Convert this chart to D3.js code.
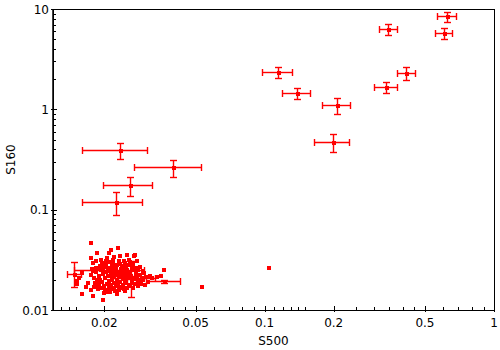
<!DOCTYPE html>
<html><head><meta charset="utf-8">
<script src="https://cdn.jsdelivr.net/npm/d3@7"></script>
<style>body{margin:0;background:#fff;}svg{display:block;}text{font-family:"DejaVu Sans",sans-serif;}</style>
</head><body><svg id="c" width="500" height="350"></svg>
<script>
// Scatter cluster (S500, S160)
const clusterX = [0.01748,0.0230,0.0214,0.0185,0.0210,0.0221,0.0234,0.0252,0.0272,0.0269,0.0174,0.0205,0.0193,0.0183,0.0243,0.0255,0.0212,0.0179,0.0203,0.0219,0.0226,0.0239,0.0249,0.0190,0.0263,0.0266,0.0176,0.0215,0.0198,0.0239,0.0160,0.0298,0.0364,0.0174,0.0155,0.0152,0.0152,0.0159,0.0175,0.0178,0.0197,0.0200,0.0206,0.0227,0.0247,0.0354,0.0339,0.0324,0.0280,0.0274,0.0169,0.0166,0.0181,0.0188,0.0219,0.0234,0.0257,0.0221,0.0191,
0.0184,0.0189,0.0193,0.0197,0.0201,0.0203,0.0207,0.0209,0.0212,0.0214,0.0216,0.0218,0.0220,0.0222,0.0225,0.0227,0.0229,0.0232,0.0234,0.0236,0.0239,0.0241,0.0244,0.0246,0.0248,0.0251,0.0254,0.0256,0.0259,0.0261,0.0264,0.0266,0.0269,0.0275,0.0277,0.0280,0.0283,0.0286,0.0292,0.0295,
0.0186,0.0189,0.0195,0.0199,0.0205,0.0209,0.0214,0.0220,0.0225,0.0229,0.0236,0.0241,0.0246,0.0251,0.0259,0.0266,0.0272,0.0280,0.0289,0.0181,0.0182,0.0188,0.0193,0.0201,0.0212,0.0222,0.0232,0.0244,
0.0191,0.0199,0.0207,0.0216,0.0225,0.0234,0.0244,0.0254,0.0264,0.0275,0.0286,0.0195,0.0203,0.0218,0.0232,0.0246,0.0259,0.0277,0.0179,0.0184,0.0295,0.0304,0.0310,0.0316,0.0301,
0.0534,0.1047];
const clusterY = [0.0466,0.0412,0.0395,0.0367,0.0367,0.0338,0.0346,0.0352,0.0352,0.0343,0.0328,0.0328,0.0317,0.0308,0.0310,0.0315,0.0299,0.0292,0.0286,0.0290,0.0281,0.0273,0.0266,0.0264,0.0275,0.0290,0.0258,0.0256,0.0250,0.0245,0.0232,0.0232,0.0248,0.0223,0.0207,0.0195,0.0181,0.0144,0.0157,0.0137,0.0125,0.0149,0.0151,0.0144,0.0155,0.0216,0.0212,0.0207,0.0199,0.0220,0.0185,0.0170,0.0170,0.0178,0.0165,0.0171,0.0178,0.0187,0.0199,
0.0239,0.0218,0.0250,0.0229,0.0208,0.0239,0.0218,0.0195,0.0245,0.0223,0.0204,0.0234,0.0213,0.0245,0.0223,0.0199,0.0234,0.0213,0.0190,0.0256,0.0223,0.0204,0.0239,0.0218,0.0195,0.0250,0.0229,0.0208,0.0239,0.0218,0.0186,0.0250,0.0204,0.0234,0.0213,0.0250,0.0190,0.0223,0.0208,0.0245,
0.0199,0.0182,0.0190,0.0173,0.0182,0.0166,0.0178,0.0162,0.0173,0.0186,0.0166,0.0178,0.0186,0.0166,0.0173,0.0166,0.0182,0.0173,0.0182,0.0208,0.0186,0.0162,0.0166,0.0158,0.0151,0.0155,0.0158,0.0162,
0.0275,0.0268,0.0262,0.0275,0.0262,0.0288,0.0262,0.0281,0.0262,0.0262,0.0268,0.0294,0.0308,0.0315,0.0308,0.0294,0.0301,0.0308,0.0245,0.0262,0.0199,0.0213,0.0190,0.0218,0.0178,
0.0170,0.0260];

// Sources with error bars
const ebX   = [0.622,0.346,0.607,0.1146,0.4146,0.1388,0.339,0.2073,0.1991,0.02346,0.03994,0.02594,0.02254,0.01477,0.0209,0.0262,0.02665,0.03637];
const ebXLo = [0.563,0.316,0.555,0.0976,0.3764,0.1194,0.3006,0.1783,0.1646,0.01601,0.0270,0.01977,0.01601,0.01377,0.01477,0.0250,0.02136,0.03027];
const ebXHi = [0.681,0.379,0.658,0.1320,0.4537,0.1580,0.3790,0.2362,0.2339,0.03076,0.0529,0.03215,0.0291,0.01585,0.0297,0.0275,0.0332,0.04258];
const ebY   = [8.53,6.29,5.74,2.34,2.29,1.447,1.661,1.099,0.470,0.3937,0.2666,0.1763,0.1185,0.02285,0.0250,0.02037,0.0210,0.01932];
const ebYLo = [7.39,5.48,5.00,2.04,1.95,1.261,1.447,0.894,0.3735,0.318,0.2104,0.136,0.088,0.01684,0.0240,0.01339,0.0203,0.0187];
const ebYHi = [9.42,7.05,6.44,2.63,2.63,1.623,1.863,1.290,0.565,0.459,0.315,0.2133,0.149,0.0299,0.0261,0.0310,0.0217,0.0199];

const xMajor = [0.02,0.05,0.1,0.2,0.5,1];
const xMajorLabels = ["0.02","0.05","0.1","0.2","0.5","1"];
const xMinor = [0.013,0.014,0.015,0.025,0.03,0.035,0.04,0.045,0.06,0.07,0.08,0.09,0.11,0.12,0.13,0.14,0.15,0.25,0.3,0.35,0.4,0.45,0.6,0.7,0.8,0.9];
const yMajor = [0.01,0.1,1,10];
const yMajorLabels = ["0.01","0.1","1","10"];
const yMinor = [0.02,0.03,0.04,0.05,0.06,0.07,0.08,0.09,0.2,0.3,0.4,0.5,0.6,0.7,0.8,0.9,2,3,4,5,6,7,8,9];

const L=53,R=494,T=9,B=310;
const x = d3.scaleLog().domain([0.012,1]).range([L+0.5,R]);
const y = d3.scaleLog().domain([0.01,10]).range([B,T]);
const svg = d3.select("#c");
const red = "#ff0000";

// frame
svg.append("rect").attr("x",L+0.5).attr("y",T+0.5).attr("width",R-L).attr("height",B-T)
  .attr("fill","none").attr("stroke","#000").attr("stroke-width",1).attr("shape-rendering","crispEdges");
svg.append("line").attr("x1",L).attr("x2",L).attr("y1",T).attr("y2",B+1).attr("stroke","#000").attr("stroke-width",1.5);

// x ticks
const gx = svg.append("g").attr("shape-rendering","crispEdges");
gx.selectAll(".xmn").data(xMinor).join("line").attr("x1",d=>Math.round(x(d))+0.5).attr("x2",d=>Math.round(x(d))+0.5)
  .attr("y1",B-3).attr("y2",B).attr("stroke","#000");
gx.selectAll(".xmj").data(xMajor).join("line").attr("x1",d=>Math.round(x(d))+0.5).attr("x2",d=>Math.round(x(d))+0.5)
  .attr("y1",B-4).attr("y2",B+2).attr("stroke","#000");
svg.selectAll(".xl").data(xMajor).join("text").attr("x",d=>x(d)).attr("y",327).attr("text-anchor","middle")
  .attr("font-size",12).text((d,i)=>xMajorLabels[i]);
// y ticks
const gy = svg.append("g").attr("shape-rendering","crispEdges");
gy.selectAll(".ymn").data(yMinor).join("line").attr("y1",d=>Math.round(y(d))+0.5).attr("y2",d=>Math.round(y(d))+0.5)
  .attr("x1",L).attr("x2",L+3).attr("stroke","#000");
gy.selectAll(".ymj").data(yMajor).join("line").attr("y1",d=>Math.round(y(d))+0.5).attr("y2",d=>Math.round(y(d))+0.5)
  .attr("x1",L-2).attr("x2",L+4).attr("stroke","#000");
svg.selectAll(".yl").data(yMajor).join("text").attr("x",49).attr("y",d=>y(d)+4.5).attr("text-anchor","end")
  .attr("font-size",12).text((d,i)=>yMajorLabels[i]);

// axis titles
svg.append("text").attr("x",(L+R)/2).attr("y",345).attr("text-anchor","middle").attr("font-size",12).text("S500");
svg.append("text").attr("transform",`translate(15,${(T+B)/2}) rotate(-90)`).attr("text-anchor","middle").attr("font-size",12).text("S160");

// scatter
svg.append("g").attr("shape-rendering","crispEdges").selectAll("rect").data(clusterX).join("rect")
  .attr("x",(d)=>Math.round(x(d))-2).attr("y",(d,i)=>Math.round(y(clusterY[i]))-2)
  .attr("width",4).attr("height",4).attr("fill",red);

// error bars
const cap=3.5;
const ge = svg.append("g").attr("stroke",red).attr("stroke-width",1.4);
ebX.forEach((v,i)=>{
  const cx=Math.round(x(v))+0.5, cy=Math.round(y(ebY[i]))+0.5;
  const xl=Math.round(x(ebXLo[i]))+0.5, xh=Math.round(x(ebXHi[i]))+0.5;
  const yl=Math.round(y(ebYLo[i]))+0.5, yh=Math.round(y(ebYHi[i]))+0.5;
  ge.append("line").attr("x1",xl).attr("x2",xh).attr("y1",cy).attr("y2",cy);
  ge.append("line").attr("x1",xl).attr("x2",xl).attr("y1",cy-cap).attr("y2",cy+cap);
  ge.append("line").attr("x1",xh).attr("x2",xh).attr("y1",cy-cap).attr("y2",cy+cap);
  ge.append("line").attr("x1",cx).attr("x2",cx).attr("y1",yl).attr("y2",yh);
  ge.append("line").attr("x1",cx-cap).attr("x2",cx+cap).attr("y1",yl).attr("y2",yl);
  ge.append("line").attr("x1",cx-cap).attr("x2",cx+cap).attr("y1",yh).attr("y2",yh);
  svg.append("rect").attr("x",cx-2).attr("y",cy-2).attr("width",4).attr("height",4).attr("fill",red).attr("shape-rendering","crispEdges");
});
</script></body></html>
